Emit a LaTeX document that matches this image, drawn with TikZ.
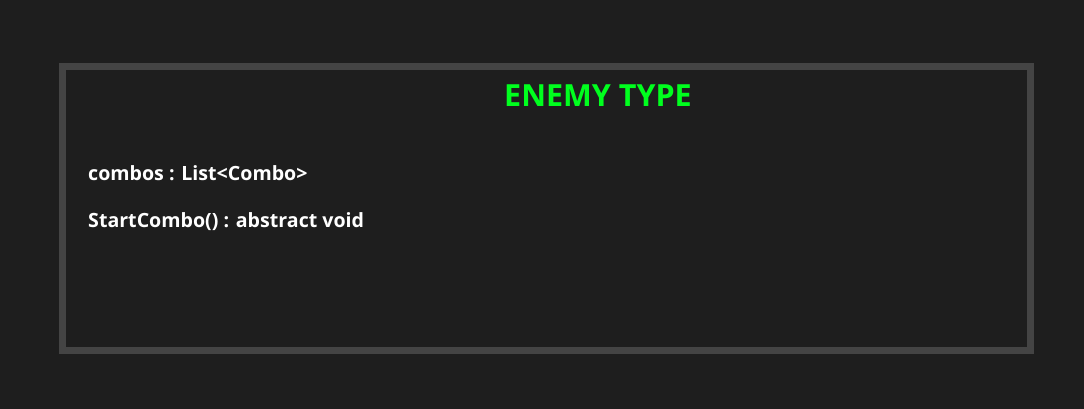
\documentclass[tikz,border=0pt]{standalone}
\usepackage{fontspec}
\setmainfont{Open Sans}
\definecolor{bgdark}{HTML}{1E1E1E}
\definecolor{framegray}{HTML}{444444}
\definecolor{titlegreen}{HTML}{00FF1E}
\begin{document}
\begin{tikzpicture}[x=1pt, y=-1pt, line join=miter,
		member/.style={white, font=\fontsize{19.6}{22}\bfseries\selectfont, anchor=base west, inner sep=0pt}]
			\fill[bgdark] (0,0) rectangle (1084,409);
			\useasboundingbox (0,0) rectangle (1084,409);
			\draw[framegray, line width=7pt] (62.5,66.5) rectangle (1030.5,350.5);
			\node[titlegreen, font=\fontsize{30.5}{34}\bfseries\selectfont, anchor=base] (title) at (598,107) {ENEMY TYPE};
			\node[member] (combos) at (88,180) {combos : List<Combo>};
			\node[member] (start) at (88,227) {StartCombo() : abstract void};
		\end{tikzpicture}
\end{document}
